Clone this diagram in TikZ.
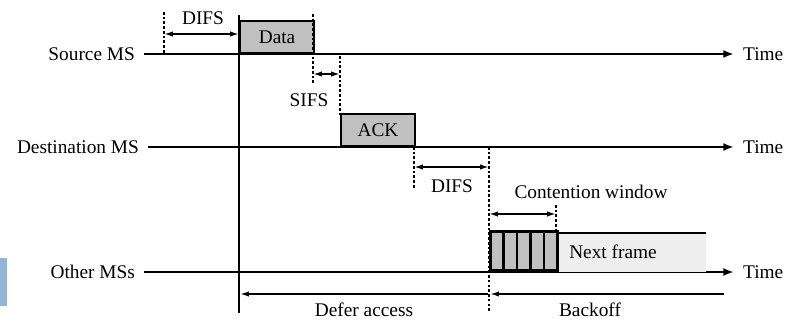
\documentclass[tikz,border=0pt]{standalone}
\usepackage{fontspec}
\setmainfont{Liberation Serif}
\usetikzlibrary{arrows.meta}
\definecolor{boxgray}{HTML}{C0C0C0}
\definecolor{framegray}{HTML}{EEEEEE}
\definecolor{sidebar}{HTML}{94B4D4}
\begin{document}
\begin{tikzpicture}[x=0.02cm, y=-0.02cm, font=\fontsize{11}{13}\selectfont,
  lab/.style={inner sep=1pt},
  axis/.style={line width=1.2pt, -{Latex[length=6pt,width=4.5pt]}},
  tick/.style={dash pattern=on 1.5pt off 1.2pt, line width=0.7pt},
  span/.style={line width=0.9pt, {Latex[length=5pt,width=3pt]}-{Latex[length=5pt,width=3pt]}},
  lspan/.style={line width=0.9pt, -{Latex[length=5pt,width=3pt]}},
  pkt/.style={draw, line width=1.2pt, fill=boxgray, inner sep=0pt, anchor=south west}]
  \useasboundingbox (0,0) rectangle (787,321);
  \fill[sidebar] (0,258) rectangle (7,306);
  % stations
  \node[lab, anchor=east] (srcl) at (137,54) {Source MS};
  \node[lab, anchor=east] (dstl) at (141,147) {Destination MS};
  \node[lab, anchor=east] (othl) at (137,272) {Other MSs};
  \node[lab, anchor=west] (srct) at (741,54) {Time};
  \node[lab, anchor=west] (dstt) at (741,147) {Time};
  \node[lab, anchor=west] (otht) at (741,272) {Time};
  \draw[axis, shorten <=4pt, shorten >=4pt] (srcl) -- (srct);
  \draw[axis, shorten <=4pt, shorten >=4pt] (dstl) -- (dstt);
  \draw[axis, shorten <=4pt, shorten >=4pt] (othl) -- (otht);
  % frames
  \node[pkt, minimum width=1.48cm, minimum height=0.64cm] (data) at (239,54) {Data};
  \node[pkt, minimum width=1.48cm, minimum height=0.64cm] (ack) at (340,147) {ACK};
  \fill[framegray] (556,233) rectangle (706,272);
  \node[lab] (next) at (613,252) {Next frame};
  \draw[line width=1.2pt] (489,233) -- (706,233);
  \foreach \i in {0,...,4}
    \node[pkt, line width=1.5pt, minimum width=0.268cm, minimum height=0.78cm] (slot\i) at (489+13.4*\i,272) {};
  % time marks
  \coordinate (t0) at (239,15);
  \coordinate (t1) at (239,313);
  \draw[line width=1.6pt] (t0) -- (t1);
  \coordinate (d0a) at (164,12);  \coordinate (d0b) at (164,54);
  \coordinate (s0a) at (313,14);  \coordinate (s0b) at (313,84);
  \coordinate (s1a) at (340,56);  \coordinate (s1b) at (340,115);
  \coordinate (d1a) at (414,147); \coordinate (d1b) at (414,188);
  \coordinate (d2a) at (489,147); \coordinate (d2b) at (489,312);
  \coordinate (c1a) at (556,205); \coordinate (c1b) at (556,233);
  \draw[tick] (d0a) -- (d0b);
  \draw[tick] (s0a) -- (s0b);
  \draw[tick] (s1a) -- (s1b);
  \draw[tick] (d1a) -- (d1b);
  \draw[tick] (d2a) -- (d2b);
  \draw[tick] (c1a) -- (c1b);
  % intervals
  \draw[span] (164,34) -- (239,34);
  \node[lab] (difs1) at (203,18) {DIFS};
  \draw[span] (313,74) -- (340,74);
  \node[lab] (sifs) at (309,100) {SIFS};
  \draw[span] (414,167) -- (489,167);
  \node[lab] (difs2) at (452,186) {DIFS};
  \draw[span] (489,214) -- (556,214);
  \node[lab] (cw) at (591,192) {Contention window};
  \draw[lspan] (488,294) -- (240,294);
  \node[lab] (defer) at (364,310) {Defer access};
  \draw[lspan] (724,294) -- (490,294);
  \node[lab] (back) at (590,310) {Backoff};
\end{tikzpicture}
\end{document}
